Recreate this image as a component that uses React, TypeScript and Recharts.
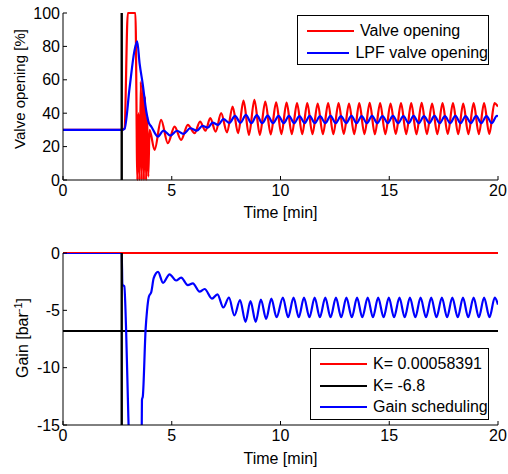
import React from 'react';
import { LineChart, Line, XAxis, YAxis, ReferenceLine, Legend } from 'recharts';

type Pt = [number, number];

const FONT = '"Liberation Sans", Arial, Helvetica, sans-serif';

const timeTicks = [0, 5, 10, 15, 20];
const valveTicks = [0, 20, 40, 60, 80, 100];
const gainTicks = [-15, -10, -5, 0];
const eventTime = 2.7;
const fixedGainSmall = 0.00058391;
const fixedGainLarge = -6.8;

const valveOpening: Pt[] = [
  [0, 30], [2.7, 30], [2.83, 31], [2.98, 100], [3.33, 100], [3.42, 0], [3.47, 40], [3.52, 0],
  [3.58, 59], [3.62, 0], [3.67, 57], [3.72, 0], [3.77, 50], [3.82, 0], [3.87, 38], [3.92, 2],
  [3.98, 30], [4.21, 18], [4.51, 36], [4.82, 22], [5.13, 32], [5.43, 24], [5.74, 33], [6.05, 28],
  [6.3, 35], [6.55, 29.5], [6.77, 37], [7.02, 29], [7.27, 40], [7.54, 28.5], [7.8, 44], [8.05, 28],
  [8.3, 47.5], [8.55, 27], [8.8, 48], [9.05, 27], [9.3, 47], [9.55, 27.3], [9.8, 46.5],
  [10.04, 27.5], [10.28, 46.3], [10.52, 27.5], [10.76, 46], [11.0, 27.4], [11.23, 46], [11.47, 27.5],
  [11.71, 45.8], [11.95, 27.5], [12.19, 46], [12.43, 27.4], [12.67, 46], [12.91, 27.6], [13.15, 45.8],
  [13.39, 27.5], [13.62, 46], [13.86, 27.5], [14.1, 46.2], [14.34, 27.4], [14.58, 46], [14.82, 27.5],
  [15.06, 45.8], [15.3, 27.6], [15.54, 46], [15.78, 27.5], [16.01, 46], [16.25, 27.4], [16.49, 46.2],
  [16.73, 27.5], [16.97, 45.8], [17.21, 27.5], [17.45, 46], [17.69, 27.6], [17.93, 46], [18.17, 27.4],
  [18.4, 45.8], [18.64, 27.5], [18.88, 46], [19.12, 27.5], [19.36, 46], [19.6, 27.6], [19.84, 46],
  [20, 44],
];

const lpfValveOpening: Pt[] = [
  [0, 30], [2.7, 30], [2.83, 30.6], [3.06, 55], [3.28, 77], [3.41, 83], [3.52, 70], [3.67, 57],
  [3.83, 41], [3.95, 34], [4.06, 32], [4.36, 26], [4.62, 29.6], [4.93, 26.6], [5.24, 29.5],
  [5.54, 27.6], [5.85, 31], [6.16, 29.6], [6.41, 32.4], [6.66, 31.4], [6.88, 34.4], [7.13, 33],
  [7.38, 36.5], [7.65, 34.2], [7.91, 38.4], [8.16, 34.2], [8.41, 39], [8.66, 34], [8.91, 38.8],
  [9.16, 34], [9.41, 38.5], [9.66, 34], [9.91, 38.4],
  [10.15, 34], [10.39, 38.4], [10.63, 34], [10.87, 38.3], [11.11, 34.1], [11.34, 38.4], [11.58, 34],
  [11.82, 38.3], [12.06, 34], [12.3, 38.4], [12.54, 34], [12.78, 38.3], [13.02, 34.1], [13.26, 38.4],
  [13.5, 34], [13.73, 38.3], [13.97, 34], [14.21, 38.4], [14.45, 34], [14.69, 38.3], [14.93, 34.1],
  [15.17, 38.4], [15.41, 34], [15.65, 38.3], [15.89, 34], [16.12, 38.4], [16.36, 34], [16.6, 38.3],
  [16.84, 34.1], [17.08, 38.4], [17.32, 34], [17.56, 38.3], [17.8, 34], [18.04, 38.4], [18.28, 34],
  [18.51, 38.3], [18.75, 34.1], [19.0, 38.4], [19.23, 34], [19.47, 38.3], [19.71, 34], [19.95, 38.4],
  [20, 38.2],
];

const gainScheduling: Pt[] = [
  [0, 0], [2.7, 0], [2.73, -2.75], [2.82, -2.9], [2.9, -6.6], [3.0, -14], [3.1, -20], [3.3, -24],
  [3.5, -20], [3.62, -15.2], [3.63, -12.8], [3.67, -12.5], [3.8, -6.6], [3.86, -5.1], [3.95, -3.8],
  [4.06, -3.4], [4.17, -2.2], [4.37, -1.65], [4.6, -2.6], [4.9, -1.86], [5.2, -2.4], [5.43, -2.15],
  [5.74, -2.8], [5.97, -2.65], [6.28, -3.37], [6.51, -3.14], [6.85, -3.98], [7.1, -3.6], [7.37, -4.75],
  [7.63, -3.9], [7.88, -5.45], [8.14, -4.1], [8.39, -6.0], [8.62, -4.2], [8.86, -6.0], [9.1, -4.06],
  [9.34, -5.75], [9.58, -3.98], [9.82, -5.6], [10.11, -3.9],
  [10.35, -5.6], [10.6, -3.9], [10.84, -5.6], [11.08, -3.9], [11.33, -5.6], [11.57, -3.9], [11.81, -5.6],
  [12.06, -3.9], [12.3, -5.6], [12.55, -3.9], [12.79, -5.6], [13.03, -3.9], [13.28, -5.6], [13.52, -3.9],
  [13.76, -5.6], [14.01, -3.9], [14.25, -5.6], [14.49, -3.9], [14.74, -5.6], [14.98, -3.9], [15.22, -5.6],
  [15.47, -3.9], [15.71, -5.6], [15.95, -3.9], [16.2, -5.6], [16.44, -3.9], [16.69, -5.6], [16.93, -3.9],
  [17.17, -5.6], [17.42, -3.9], [17.66, -5.6], [17.9, -3.9], [18.15, -5.6], [18.39, -3.9], [18.63, -5.6],
  [18.88, -3.9], [19.12, -5.6], [19.36, -3.9], [19.61, -5.6], [19.85, -3.9], [20, -4.5],
];

const smallGainLine: Pt[] = [[0, fixedGainSmall], [20, fixedGainSmall]];
const largeGainLine: Pt[] = [[0, fixedGainLarge], [20, fixedGainLarge]];

const topLegendItems = [
  { label: 'Valve opening', color: '#ff0000' },
  { label: 'LPF valve opening', color: '#0000ff' },
];
const bottomLegendItems = [
  { label: 'K= 0.00058391', color: '#ff0000' },
  { label: 'K= -6.8', color: '#000000' },
  { label: 'Gain scheduling', color: '#0000ff' },
];

const toRows = (pts: Pt[]) => pts.map(([t, v]) => ({ t, v }));

const tickStyle = { fill: '#000', fontSize: 16, fontFamily: FONT };

function LegendBox({ items }: { items: { label: string; color: string }[] }) {
  return (
    <div
      style={{
        border: '1px solid #000',
        background: '#fff',
        boxSizing: 'border-box',
        width: '100%',
        height: '100%',
        padding: '4px 0 0 9px',
        fontFamily: FONT,
        fontSize: 16,
        color: '#000',
      }}
    >
      {items.map((it) => (
        <div key={it.label} style={{ display: 'flex', alignItems: 'center', height: 21.7 }}>
          <svg width={47} height={4} style={{ display: 'block' }}>
            <line x1={0} x2={47} y1={2} y2={2} stroke={it.color} strokeWidth={2} />
          </svg>
          <span style={{ marginLeft: 6, lineHeight: 1, whiteSpace: 'nowrap' }}>{it.label}</span>
        </div>
      ))}
    </div>
  );
}

const LW = 2.2;

const lineCommon = {
  dataKey: 'v',
  type: 'monotone' as const,
  strokeWidth: LW,
  dot: false,
  activeDot: false,
  isAnimationActive: false,
  xAxisId: 'b',
  yAxisId: 'l',
};

function TopPlot() {
  return (
    <LineChart width={508} height={232} margin={{ top: 13, right: 10, bottom: 0, left: 0 }}>
      <XAxis
        xAxisId="b"
        dataKey="t"
        type="number"
        domain={[0, 20]}
        ticks={timeTicks}
        interval={0}
        allowDataOverflow
        height={52}
        tickSize={-4}
        tickMargin={9}
        stroke="#000"
        tick={tickStyle}
        label={{
          content: () => (
            <text x={280.5} y={218} textAnchor="middle" fontSize={16} fontFamily={FONT} fill="#000">
              Time [min]
            </text>
          ),
        }}
      />
      <XAxis
        xAxisId="t"
        orientation="top"
        type="number"
        domain={[0, 20]}
        ticks={timeTicks}
        interval={0}
        allowDataOverflow
        height={0}
        tickSize={-4}
        stroke="#000"
        tick={false}
      />
      <YAxis
        yAxisId="l"
        type="number"
        domain={[0, 100]}
        ticks={valveTicks}
        interval={0}
        width={63}
        tickSize={-4}
        tickMargin={7}
        stroke="#000"
        tick={tickStyle}
        label={{
          content: () => (
            <text
              transform="translate(24.5,89) rotate(-90)"
              textAnchor="middle"
              fontSize={15}
              fontFamily={FONT}
              fill="#000"
            >
              Valve opening [%]
            </text>
          ),
        }}
      />
      <YAxis
        yAxisId="r"
        orientation="right"
        type="number"
        domain={[0, 100]}
        ticks={valveTicks}
        interval={0}
        width={0}
        tickSize={-4}
        stroke="#000"
        tick={false}
      />
      <Line {...lineCommon} data={toRows(valveOpening)} stroke="#ff0000" name="Valve opening" />
      <Line {...lineCommon} data={toRows(lpfValveOpening)} stroke="#0000ff" name="LPF valve opening" />
      <ReferenceLine xAxisId="b" yAxisId="l" x={eventTime} stroke="#000" strokeWidth={2.4} />
      <Legend
        layout="vertical"
        align="center"
        verticalAlign="middle"
        wrapperStyle={{ left: 297, top: 15, width: 192, height: 50 }}
        content={() => <LegendBox items={topLegendItems} />}
      />
    </LineChart>
  );
}

function BottomPlot() {
  return (
    <LineChart width={508} height={242} margin={{ top: 21, right: 10, bottom: 0, left: 0 }}>
      <XAxis
        xAxisId="b"
        dataKey="t"
        type="number"
        domain={[0, 20]}
        ticks={timeTicks}
        interval={0}
        allowDataOverflow
        height={49}
        tickSize={-4}
        tickMargin={9}
        stroke="#000"
        tick={tickStyle}
        label={{
          content: () => (
            <text x={280.5} y={231.5} textAnchor="middle" fontSize={16} fontFamily={FONT} fill="#000">
              Time [min]
            </text>
          ),
        }}
      />
      <XAxis
        xAxisId="t"
        orientation="top"
        type="number"
        domain={[0, 20]}
        ticks={timeTicks}
        interval={0}
        allowDataOverflow
        height={0}
        tickSize={-4}
        stroke="#000"
        axisLine={false}
        tick={false}
      />
      <YAxis
        yAxisId="l"
        type="number"
        domain={[-15, 0]}
        ticks={gainTicks}
        interval={0}
        allowDataOverflow
        width={63}
        tickSize={-4}
        tickMargin={7}
        stroke="#000"
        tick={tickStyle}
        label={{
          content: () => (
            <text
              transform="translate(28,106) rotate(-90)"
              textAnchor="middle"
              fontSize={16}
              fontFamily={FONT}
              fill="#000"
            >
              Gain [bar
              <tspan dy={-6} fontSize={11}>-1</tspan>
              <tspan dy={6}>]</tspan>
            </text>
          ),
        }}
      />
      <YAxis yAxisId="k" hide width={0} type="number" domain={[-15, 0]} />
      <YAxis
        yAxisId="r"
        orientation="right"
        type="number"
        domain={[-15, 0]}
        ticks={gainTicks}
        interval={0}
        allowDataOverflow
        width={0}
        tickSize={-4}
        stroke="#000"
        tick={false}
      />
      <Line {...lineCommon} yAxisId="k" type="linear" data={toRows(smallGainLine)} stroke="#ff0000" name="K= 0.00058391" />
      <Line {...lineCommon} yAxisId="k" type="linear" data={toRows(largeGainLine)} stroke="#000000" name="K= -6.8" />
      <Line {...lineCommon} data={toRows(gainScheduling)} stroke="#0000ff" name="Gain scheduling" />
      <ReferenceLine xAxisId="b" yAxisId="l" x={eventTime} stroke="#000" strokeWidth={2.4} />
      <Legend
        layout="vertical"
        align="center"
        verticalAlign="middle"
        wrapperStyle={{ left: 310, top: 116, width: 179, height: 72 }}
        content={() => <LegendBox items={bottomLegendItems} />}
      />
    </LineChart>
  );
}

export default function App() {
  return (
    <div style={{ position: 'absolute', left: 0, top: 0, width: 508, height: 474, background: '#fff' }}>
      <div style={{ position: 'absolute', left: 0, top: 0 }}>
        <TopPlot />
      </div>
      <div style={{ position: 'absolute', left: 0, top: 232 }}>
        <BottomPlot />
      </div>
    </div>
  );
}
